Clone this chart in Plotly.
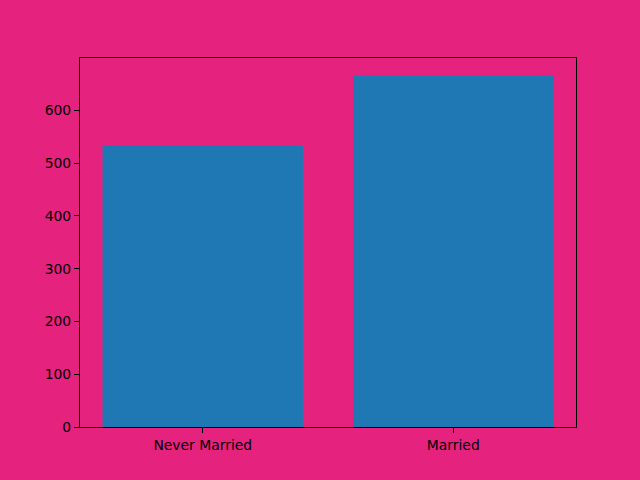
import plotly.graph_objects as go

categories = ["Never Married", "Married"]
counts = [533, 666]

bg = "#E5237F"
fig = go.Figure(go.Bar(x=categories, y=counts, width=0.8, marker=dict(color="#1f77b4", line=dict(width=0))))

fig.update_layout(
    width=640, height=480,
    margin=dict(l=80, r=64, t=58, b=53),
    paper_bgcolor=bg, plot_bgcolor=bg,
    font=dict(family="DejaVu Sans", size=13.9, color="black"),
    showlegend=False,
)
fig.update_xaxes(type="category", range=[-0.49, 1.49], showline=True, linecolor="black", linewidth=1.1,
                 mirror=True, ticks="outside", ticklen=5, tickwidth=1, tickcolor="black",
                 showgrid=False, zeroline=False)
fig.update_yaxes(range=[0, 699.3], tickvals=[0, 100, 200, 300, 400, 500, 600], showline=True,
                 linecolor="black", linewidth=1.1, mirror=True, ticks="outside", ticklen=5,
                 tickwidth=1, tickcolor="black", showgrid=False, zeroline=False)

fig.write_html("out.html")
